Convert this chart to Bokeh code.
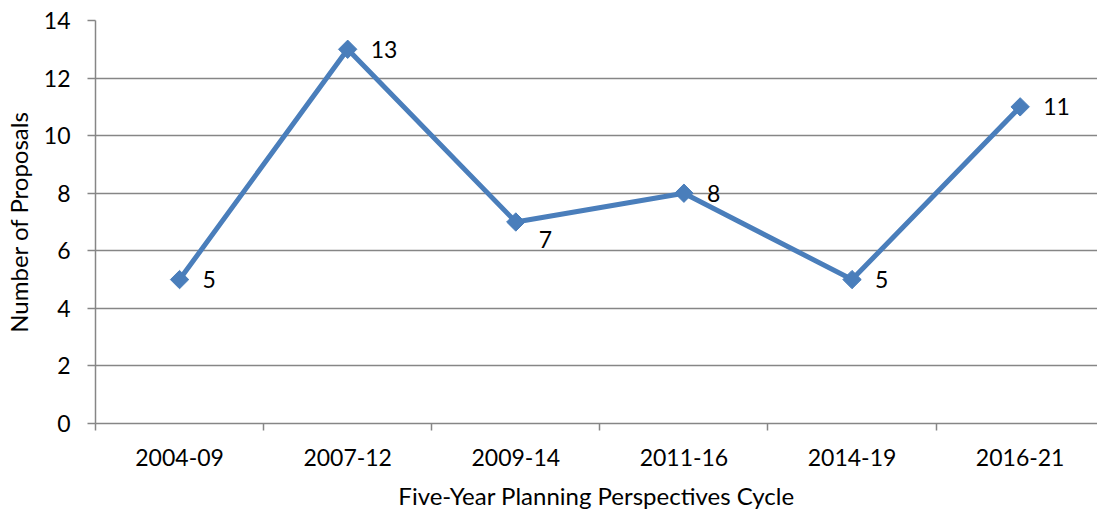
import math
from bokeh.plotting import figure
from bokeh.models import ColumnDataSource, Range1d, FixedTicker, LabelSet
from bokeh.core.properties import value
from bokeh.embed import file_html
from bokeh.resources import INLINE

cycles = ["2004-09", "2007-12", "2009-14", "2011-16", "2014-19", "2016-21"]
proposals = [5, 13, 7, 8, 5, 11]
labels = ["5", "13", "7", "8", "5", "11"]
y_ticks = [0, 2, 4, 6, 8, 10, 12, 14]

# label vertical nudges (pixels) to mimic the reference placement
label_dy = [0, 0, -17, 0, 0, 0]

FONT = "Lato"
BLUE = "#4a7ebb"
GRAY = "#868686"

xs = list(range(len(cycles)))
src = ColumnDataSource(dict(x=xs, y=proposals, lab=labels, dy=label_dy))

p = figure(width=1097, height=512, output_backend="svg", toolbar_location=None,
           x_range=Range1d(-0.5, 5.46), y_range=Range1d(0, 14),
           min_border_left=94, min_border_right=0, min_border_top=20, min_border_bottom=86)
p.outline_line_color = None
p.background_fill_color = "white"
p.border_fill_color = "white"

p.line("x", "y", source=src, line_color=BLUE, line_width=5)
p.scatter("x", "y", source=src, marker="square", size=13, angle=math.pi / 4,
          fill_color=BLUE, line_color=BLUE)

ls = LabelSet(x="x", y="y", text="lab", source=src, x_offset=23, y_offset="dy",
              text_align="left", text_baseline="middle", text_font=value(FONT),
              text_font_size="23px", text_color="black")
p.add_layout(ls)

# x axis
p.xaxis.ticker = FixedTicker(ticks=xs, minor_ticks=[i - 0.5 for i in range(len(cycles) + 1)])
p.xaxis.major_label_overrides = {i: c for i, c in enumerate(cycles)}
p.xaxis.major_tick_out = 0
p.xaxis.major_tick_in = 0
p.xaxis.minor_tick_out = 7
p.xaxis.minor_tick_in = 0
p.xaxis.minor_tick_line_color = GRAY
p.xaxis.minor_tick_line_width = 1.5
p.xaxis.axis_line_color = GRAY
p.xaxis.axis_line_width = 1.5
p.xaxis.major_label_text_font = FONT
p.xaxis.major_label_text_font_size = "23px"
p.xaxis.major_label_text_color = "black"
p.xaxis.major_label_standoff = 18
p.xaxis.axis_label = "Five-Year Planning Perspectives Cycle"
p.xaxis.axis_label_text_font = FONT
p.xaxis.axis_label_text_font_size = "24px"
p.xaxis.axis_label_text_font_style = "normal"
p.xaxis.axis_label_text_color = "black"
p.xaxis.axis_label_standoff = 12

# y axis
p.yaxis.ticker = FixedTicker(ticks=y_ticks, minor_ticks=[])
p.yaxis.major_tick_out = 8
p.yaxis.major_tick_in = 0
p.yaxis.major_tick_line_color = GRAY
p.yaxis.major_tick_line_width = 1.5
p.yaxis.axis_line_color = GRAY
p.yaxis.axis_line_width = 1.5
p.yaxis.major_label_text_font = FONT
p.yaxis.major_label_text_font_size = "23px"
p.yaxis.major_label_text_color = "black"
p.yaxis.major_label_standoff = 17
p.yaxis.axis_label = "Number of Proposals"
p.yaxis.axis_label_text_font = FONT
p.yaxis.axis_label_text_font_size = "24px"
p.yaxis.axis_label_text_font_style = "normal"
p.yaxis.axis_label_text_color = "black"
p.yaxis.axis_label_standoff = 8

p.xgrid.grid_line_color = None
p.ygrid.ticker = FixedTicker(ticks=y_ticks)
p.ygrid.grid_line_color = GRAY
p.ygrid.grid_line_width = 1.5

open("out.html", "w").write(file_html(p, INLINE))
